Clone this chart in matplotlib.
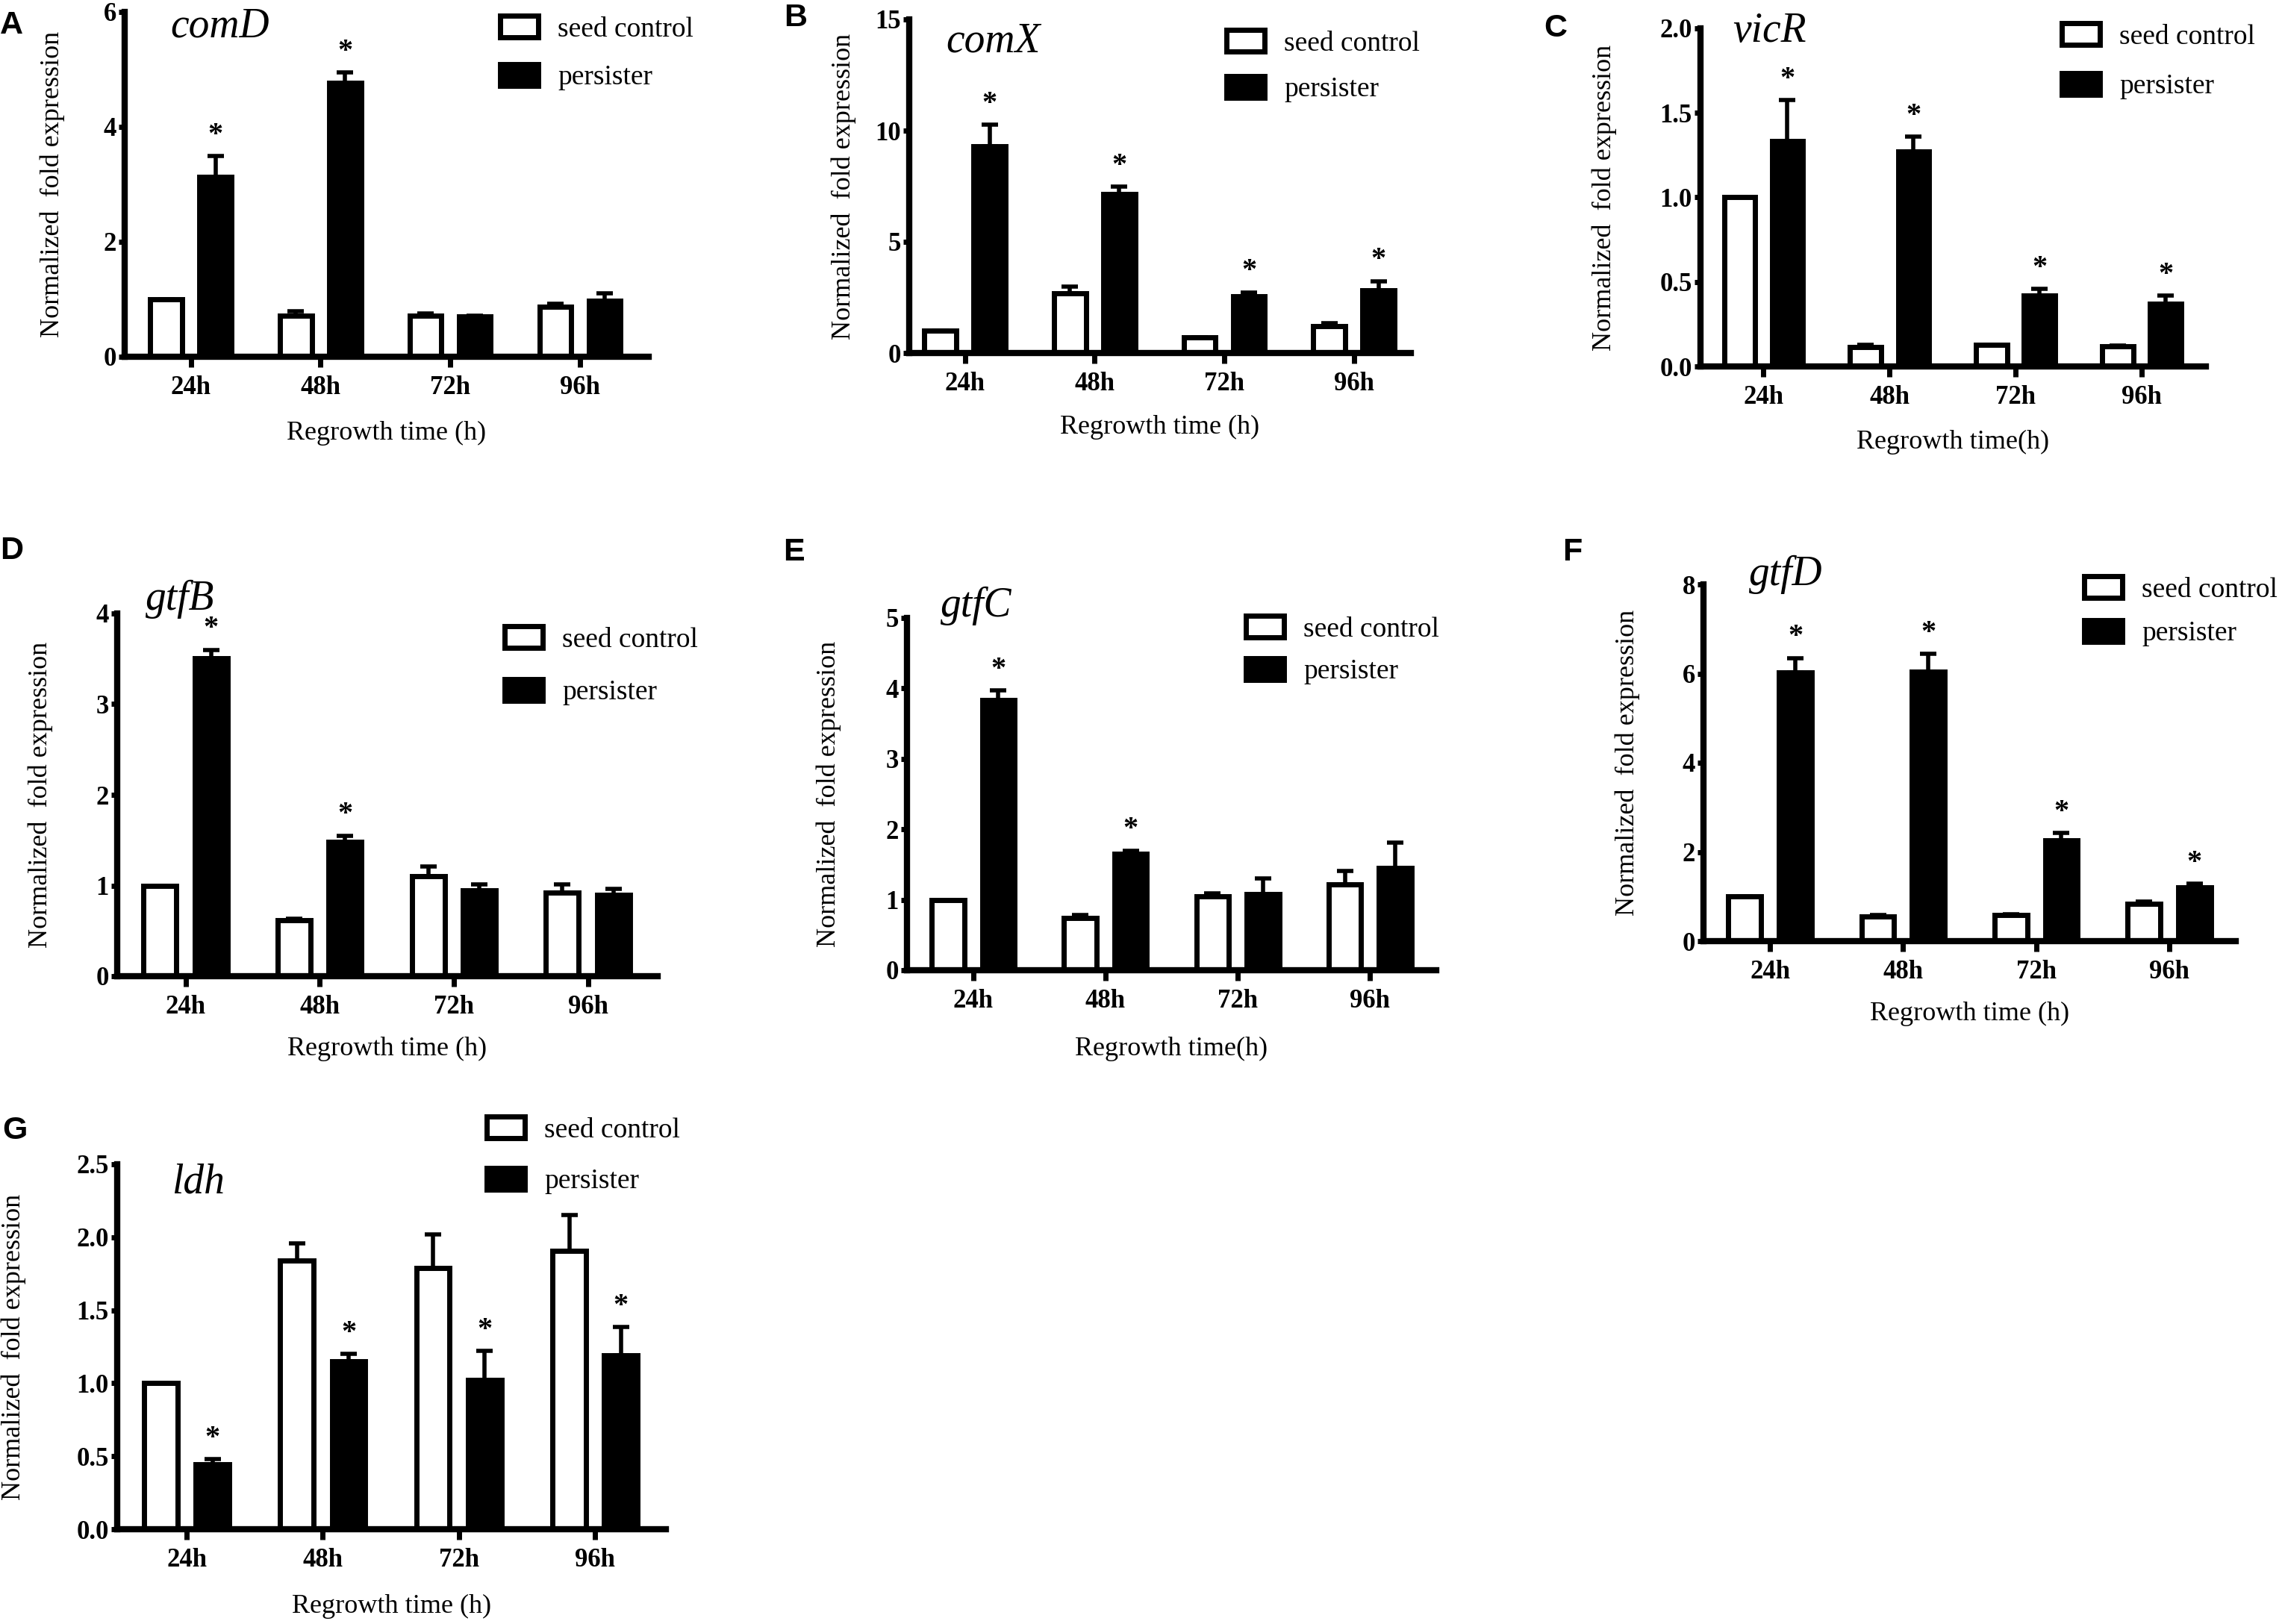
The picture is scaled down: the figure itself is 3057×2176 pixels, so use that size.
import matplotlib.pyplot as plt
import numpy as np
from matplotlib.patches import Patch

plt.rcParams['font.family'] = ['Liberation Serif', 'DejaVu Serif']

# ---- data ----
times = ['24h', '48h', '72h', '96h']

comd_seed = [1.0, 0.72, 0.71, 0.87]
comd_seed_err = [0.0, 0.07, 0.04, 0.05]
comd_pers = [3.13, 4.76, 0.70, 0.98]
comd_pers_err = [0.36, 0.19, 0.01, 0.13]
comd_stars = [1, 1, 0, 0]

comx_seed = [1.0, 2.69, 0.69, 1.20]
comx_seed_err = [0.0, 0.30, 0.0, 0.13]
comx_pers = [9.29, 7.16, 2.56, 2.83]
comx_pers_err = [0.98, 0.31, 0.17, 0.40]
comx_stars = [1, 1, 1, 1]

vicr_seed = [1.0, 0.114, 0.13, 0.12]
vicr_seed_err = [0.0, 0.012, 0.0, 0.005]
vicr_pers = [1.335, 1.27, 0.42, 0.373]
vicr_pers_err = [0.24, 0.09, 0.04, 0.047]
vicr_stars = [1, 1, 1, 1]

gtfb_seed = [1.0, 0.62, 1.10, 0.92]
gtfb_seed_err = [0.0, 0.01, 0.11, 0.09]
gtfb_pers = [3.51, 1.48, 0.95, 0.90]
gtfb_pers_err = [0.09, 0.07, 0.06, 0.06]
gtfb_stars = [1, 1, 0, 0]

gtfc_seed = [1.0, 0.74, 1.05, 1.22]
gtfc_seed_err = [0.0, 0.04, 0.04, 0.19]
gtfc_pers = [3.84, 1.65, 1.08, 1.45]
gtfc_pers_err = [0.13, 0.05, 0.22, 0.36]
gtfc_stars = [1, 1, 0, 0]

gtfd_seed = [1.0, 0.55, 0.58, 0.83]
gtfd_seed_err = [0.0, 0.04, 0.02, 0.06]
gtfd_pers = [6.02, 6.04, 2.26, 1.20]
gtfd_pers_err = [0.33, 0.40, 0.17, 0.09]
gtfd_stars = [1, 1, 1, 1]

ldh_seed = [1.0, 1.84, 1.79, 1.905]
ldh_seed_err = [0.0, 0.12, 0.23, 0.245]
ldh_pers = [0.445, 1.15, 1.02, 1.19]
ldh_pers_err = [0.035, 0.05, 0.20, 0.196]
ldh_stars = [1, 1, 1, 1]

W, H = 3057, 2176
fig = plt.figure(figsize=(W / 100, H / 100), dpi=100)


def draw_panel(letter, letter_xy, rect, xlim, ylim, yticks, fmt, gene, gene_xy,
               seed, seed_err, pers, pers_err, stars, xlabel, xlab_off,
               ylab_off, leg_xy, leg_pitch):
    x0, x1, ytop, yzero = rect
    wpx, hpx = x1 - x0, yzero - ytop
    ax = fig.add_axes([x0 / W, 1 - yzero / H, wpx / W, hpx / H])
    x = np.arange(len(times))
    off, bw = 0.19, 0.245

    ax.bar(x - off, seed, bw, color='white', edgecolor='black', linewidth=5, zorder=2)
    ax.bar(x + off, pers, bw, color='black', edgecolor='black', linewidth=5, zorder=2)
    ax.errorbar(x - off, seed, yerr=[np.zeros(len(x)), seed_err], fmt='none',
                ecolor='black', elinewidth=4, capsize=8, capthick=4, zorder=3)
    ax.errorbar(x + off, pers, yerr=[np.zeros(len(x)), pers_err], fmt='none',
                ecolor='black', elinewidth=4, capsize=8, capthick=4, zorder=3)
    for i in range(len(x)):
        if stars[i]:
            ax.annotate('*', (x[i] + off, pers[i] + pers_err[i]), xytext=(0, 20),
                        textcoords='offset points', ha='center', va='center',
                        fontsize=29, fontweight='bold')

    ax.set_xlim(xlim)
    ax.set_ylim(ylim)
    ax.set_xticks(x, times, fontweight='bold', fontsize=25)
    ax.set_yticks(yticks, [fmt.format(v) for v in yticks], fontweight='bold', fontsize=25)
    ax.tick_params(axis='x', length=10, width=5, pad=8)
    ax.tick_params(axis='y', length=6, width=5, pad=2)
    for s in ['top', 'right']:
        ax.spines[s].set_visible(False)
    for s in ['left', 'bottom']:
        ax.spines[s].set_linewidth(6)
        ax.spines[s].set_zorder(5)

    ax.set_xlabel(xlabel, fontsize=26, va='center')
    ax.xaxis.set_label_coords(0.5, -xlab_off / hpx)
    ax.set_ylabel('Normalized  fold expression', fontsize=26, va='center')
    ax.yaxis.set_label_coords(-ylab_off / wpx, 0.5)

    ax.text(gene_xy[0], gene_xy[1], gene, transform=ax.transAxes, fontsize=40,
            style='italic', ha='left', va='center')

    handles = [Patch(facecolor='white', edgecolor='black', linewidth=5),
               Patch(facecolor='black', edgecolor='black', linewidth=5)]
    ax.legend(handles, ['seed control', 'persister'], loc='upper left',
              bbox_to_anchor=(leg_xy[0] / W, 1 - (leg_xy[1] + 2) / H),
              bbox_transform=fig.transFigure, frameon=False, borderpad=0,
              borderaxespad=0, handlelength=1.36, handleheight=0.83,
              handletextpad=0.7, labelspacing=(leg_pitch - 35) / 37.5, fontsize=27)

    fig.text(letter_xy[0] / W, 1 - letter_xy[1] / H, letter, fontsize=31,
             fontweight='bold', family='Liberation Sans', ha='left', va='center')
    return ax


draw_panel('A', (0, 34), (167, 869, 16, 478), (-0.51, 3.53), (0, 6), [0, 2, 4, 6], '{:g}',
           'comD', (0.087, 0.957), comd_seed, comd_seed_err, comd_pers, comd_pers_err,
           comd_stars, 'Regrowth time (h)', 102, 97, (670, 19), 64)
draw_panel('B', (1050, 24), (1218, 1890, 26, 473), (-0.43, 3.44), (0, 15), [0, 5, 10, 15], '{:g}',
           'comX', (0.074, 0.933), comx_seed, comx_seed_err, comx_pers, comx_pers_err,
           comx_stars, 'Regrowth time (h)', 99, 88, (1643, 38), 61)
draw_panel('C', (2068, 38), (2278, 2955, 38, 491), (-0.5, 3.51), (0, 2.0),
           [0, 0.5, 1.0, 1.5, 2.0], '{:.1f}',
           'vicR', (0.064, 0.991), vicr_seed, vicr_seed_err, vicr_pers, vicr_pers_err,
           vicr_stars, 'Regrowth time(h)', 101, 129, (2762, 29), 66)
draw_panel('D', (0, 738), (157, 881, 822, 1308), (-0.51, 3.52), (0, 4), [0, 1, 2, 3, 4], '{:g}',
           'gtfB', (0.052, 1.039), gtfb_seed, gtfb_seed_err, gtfb_pers, gtfb_pers_err,
           gtfb_stars, 'Regrowth time (h)', 97, 103, (676, 837), 70)
draw_panel('E', (1049, 740), (1215, 1924, 828, 1300), (-0.5, 3.5), (0, 5), [0, 1, 2, 3, 4, 5], '{:g}',
           'gtfC', (0.063, 1.034), gtfc_seed, gtfc_seed_err, gtfc_pers, gtfc_pers_err,
           gtfc_stars, 'Regrowth time(h)', 105, 105, (1669, 823), 56)
draw_panel('F', (2093, 740), (2282, 2995, 783, 1261), (-0.5, 3.5), (0, 8), [0, 2, 4, 6, 8], '{:g}',
           'gtfD', (0.086, 1.027), gtfd_seed, gtfd_seed_err, gtfd_pers, gtfd_pers_err,
           gtfd_stars, 'Regrowth time (h)', 97, 102, (2792, 770), 58)
draw_panel('G', (3, 1515), (157, 892, 1560, 2049), (-0.51, 3.52), (0, 2.5),
           [0, 0.5, 1.0, 1.5, 2.0, 2.5], '{:.1f}',
           'ldh', (0.10, 0.949), ldh_seed, ldh_seed_err, ldh_pers, ldh_pers_err,
           ldh_stars, 'Regrowth time (h)', 103, 139, (652, 1494), 68)

fig.savefig('out.png', dpi=100, facecolor='white')
